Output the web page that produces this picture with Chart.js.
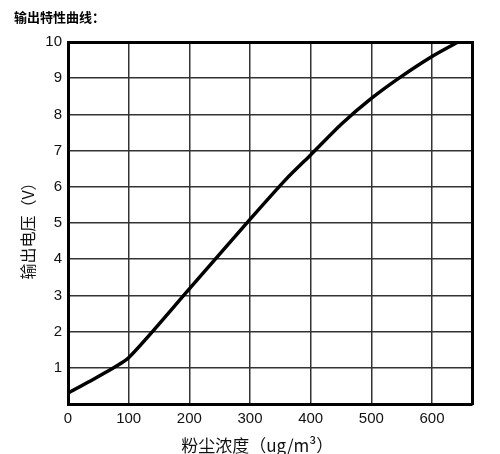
<!DOCTYPE html>
<html>
<head>
<meta charset="utf-8">
<script src="https://cdn.jsdelivr.net/npm/chart.js@4/dist/chart.umd.min.js"></script>
<style>
  body { margin: 0; background: #fff; }
</style>
</head>
<body>
<canvas id="curve" width="500" height="454"></canvas>
<script>
// 粉尘浓度 (ug/m3) vs 输出电压 (V)
const concentration = [0, 50, 100, 200, 300, 360, 400, 450, 500, 548, 600, 643];
const voltage = [0.3, 0.76, 1.28, 3.18, 5.1, 6.22, 6.88, 7.72, 8.44, 9.03, 9.6, 10.0];
const xTicks = [0, 100, 200, 300, 400, 500, 600];

const cjk = "'Noto Sans CJK SC', sans-serif";
const latin = "'Liberation Sans', Arial, sans-serif";

const points = concentration.map((c, i) => ({ x: c, y: voltage[i] }));

new Chart(document.getElementById("curve"), {
  type: 'scatter',
  data: {
    datasets: [{
      data: points,
      showLine: true,
      borderColor: '#000',
      borderWidth: 3.5,
      pointRadius: 0,
      tension: 0.2,
      borderJoinStyle: 'round',
      fill: false
    }]
  },
  options: {
    responsive: false,
    animation: false,
    devicePixelRatio: 1,
    layout: { padding: { left: 14, right: 28, top: 0, bottom: 0 } },
    plugins: {
      legend: { display: false },
      tooltip: { enabled: false },
      title: {
        display: true,
        text: '输出特性曲线：',
        align: 'start',
        color: '#000',
        font: { family: cjk, size: 13, weight: 'bold' },
        padding: { top: 9, bottom: 17.4 }
      }
    },
    scales: {
      x: {
        type: 'linear',
        position: 'bottom',
        min: 0,
        max: 666,
        afterBuildTicks: s => { s.ticks = xTicks.map(v => ({ value: v })); },
        afterFit: s => { s.height = 50; },
        ticks: { color: '#111', padding: 6, font: { family: latin, size: 15 } },
        grid: { color: '#333', lineWidth: 1.5, drawTicks: false },
        border: { color: '#000', width: 3 },
        title: {
          display: true,
          text: '粉尘浓度（ug/m³）　　',
          color: '#111',
          font: { family: cjk, size: 17, lineHeight: 1.0 },
          padding: { top: 0, bottom: 0 }
        }
      },
      y: {
        min: 0,
        max: 10,
        afterFit: s => { s.width = 54; },
        ticks: {
          stepSize: 1,
          color: '#111',
          padding: 6,
          font: { family: latin, size: 15 },
          callback: v => v === 0 ? '' : v
        },
        grid: { color: '#333', lineWidth: 1.5, drawTicks: false },
        border: { color: '#000', width: 3 },
        title: {
          display: true,
          text: '输出电压（V）　',
          color: '#111',
          font: { family: cjk, size: 16, lineHeight: 1.2 },
          padding: { top: 4, bottom: 0 }
        }
      },
      x2: {
        type: 'linear',
        axis: 'x',
        position: 'top',
        afterFit: s => { s.height = 0; },
        ticks: { display: false },
        grid: { display: false, drawTicks: false },
        border: { color: '#000', width: 3 }
      },
      y2: {
        type: 'linear',
        axis: 'y',
        position: 'right',
        afterFit: s => { s.width = 0; },
        ticks: { display: false },
        grid: { display: false, drawTicks: false },
        border: { color: '#000', width: 3 }
      }
    }
  }
});
</script>
</body>
</html>
